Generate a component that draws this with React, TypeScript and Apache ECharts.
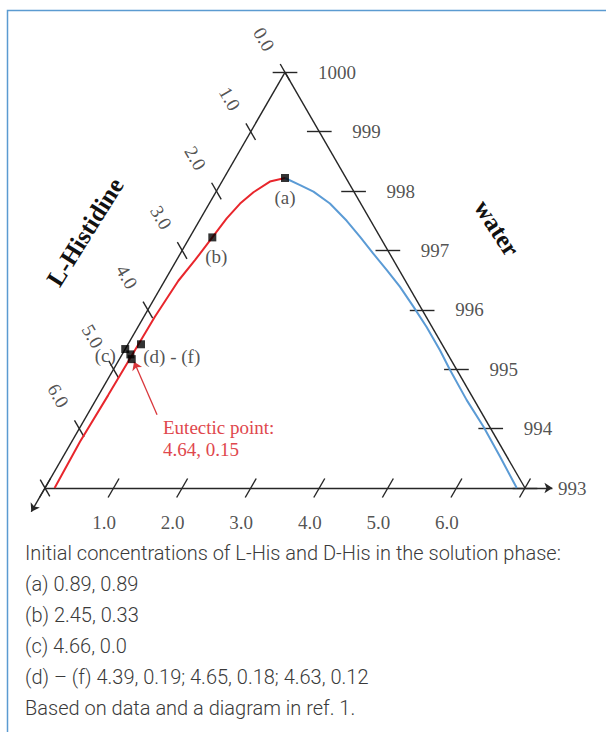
import React, { useEffect, useRef } from "react";
import * as echarts from "echarts";

// ---------------- data ----------------
const SIDE = 7; // concentration range of each axis (g / kg)
const lHisTicks = [0, 1, 2, 3, 4, 5, 6, 7];
const lHisTickLabels = ["0.0", "1.0", "2.0", "3.0", "4.0", "5.0", "6.0"];
const dHisTicks = [0, 1, 2, 3, 4, 5, 6, 7];
const dHisTickLabels = ["1.0", "2.0", "3.0", "4.0", "5.0", "6.0"];
const dHisLabelValues = [1, 2, 3, 4, 5, 6];
const waterTicks = [1000, 999, 998, 997, 996, 995, 994, 993];
const waterTickLabels = ["1000", "999", "998", "997", "996", "995", "994", "993"];

// L-His solubility branch (red): L-His, D-His
const redCurveL = [0.89, 1.14, 1.47, 1.76, 2.08, 2.45, 2.89, 3.31, 3.96, 4.64, 5.3, 6.1, 6.86];
const redCurveD = [0.89, 0.7, 0.55, 0.45, 0.38, 0.33, 0.27, 0.2, 0.16, 0.15, 0.14, 0.12, 0.14];
// D-His solubility branch (blue)
const blueCurveL = [0.89, 0.73, 0.59, 0.45, 0.35, 0.29, 0.24, 0.18, 0.13, 0.1, 0.08, 0.08, 0.1, 0.11, 0.09, 0.1, 0.12];
const blueCurveD = [0.89, 1.17, 1.42, 1.76, 2.15, 2.48, 2.81, 3.15, 3.48, 3.85, 4.21, 4.6, 4.91, 5.41, 5.88, 6.37, 6.88];

const pointNames = ["(a)", "(b)", "(c)", "(d)", "(e)", "(f)"];
const pointL = [0.89, 2.45, 4.66, 4.39, 4.65, 4.63];
const pointD = [0.89, 0.33, 0.0, 0.19, 0.18, 0.12];
const eutecticL = 4.64;
const eutecticD = 0.15;

const captionLines = [
  "Initial concentrations of L-His and D-His in the solution phase:",
  "(a) 0.89, 0.89",
  "(b) 2.45, 0.33",
  "(c) 4.66, 0.0",
  "(d) \u2013 (f) 4.39, 0.19; 4.65, 0.18; 4.63, 0.12",
  "Based on data and a diagram in ref. 1.",
];

// ---------------- layout ----------------
const W_PX = 606;
const H_PX = 732;
const PX = 480 / SIDE; // pixels per unit
const OX = 45; // pixel of left vertex
const OY = 488;
const HH = Math.sqrt(3) / 2;
const SERIF = "'Liberation Serif', 'Times New Roman', serif";
const INK = "#262626";

const tern = (L: number, D: number): [number, number] => {
  const W = SIDE - L - D;
  return [D + 0.5 * W, W * HH];
};
const shift = (p: [number, number], dx: number, dy: number): [number, number] => [
  p[0] + dx / PX,
  p[1] - dy / PX,
];

export default function App() {
  const ref = useRef<HTMLDivElement>(null);
  useEffect(() => {
    if (!ref.current) return;
    const chart = echarts.init(ref.current, undefined, { renderer: "svg" });

    const ticks: any[] = [];
    lHisTicks.forEach((L) => ticks.push({ coords: [tern(L, -0.14), tern(L, 0.14)] }));
    dHisTicks.forEach((D) =>
      ticks.push({ coords: [tern(SIDE - D + 0.16, D), tern(SIDE - D - 0.16, D)] })
    );
    waterTicks.forEach((w) => {
      const Wv = w - 993;
      ticks.push({ coords: [tern(-0.18, SIDE - Wv + 0.18), tern(0.18, SIDE - Wv - 0.18)] });
    });

    const labelItem = (p: [number, number], text: string, extra: any = {}) => ({
      value: p,
      label: {
        show: true,
        formatter: text,
        position: "inside",
        fontFamily: SERIF,
        fontSize: 19,
        color: INK,
        ...extra,
      },
    });

    const tickLabelData: any[] = [];
    lHisTickLabels.forEach((t, i) =>
      tickLabelData.push(labelItem(shift(tern(lHisTicks[i], 0), -21, -33), t, { rotate: -60 }))
    );
    dHisTickLabels.forEach((t, i) => {
      const D = dHisLabelValues[i];
      tickLabelData.push(labelItem(shift(tern(SIDE - D, D), -9.5, 34), t));
    });
    waterTickLabels.forEach((t, i) => {
      const Wv = waterTicks[i] - 993;
      tickLabelData.push(labelItem(shift(tern(0, SIDE - Wv), 33, 0), t, { align: "left" }));
    });

    const pts = pointL.map((L, i) => tern(L, pointD[i]));
    const ptLabels = [
      labelItem(shift(pts[0], 0, 19), "(a)"),
      labelItem(shift(pts[1], 4, 19), "(b)"),
      labelItem(shift(pts[2], -20, 6), "(c)"),
      labelItem(shift(pts[4], 40, -3), "(d) - (f)"),
    ];

    const eut = tern(eutecticL, eutecticD);

    const option: any = {
      animation: false,
      grid: { left: 0, right: 0, top: 0, bottom: 0 },
      xAxis: { type: "value", min: -OX / PX, max: (W_PX - OX) / PX, show: false },
      yAxis: { type: "value", min: -(H_PX - OY) / PX, max: OY / PX, show: false },
      graphic: [
        {
          type: "rect",
          shape: { x: 7.5, y: 10.5, width: 700, height: 800 },
          style: { fill: "none", stroke: "#5b9bd1", lineWidth: 1.5 },
          silent: true,
        },
        {
          type: "text",
          x: 85,
          y: 232,
          rotation: (58 * Math.PI) / 180,
          style: {
            text: "L-Histidine",
            font: `bold 25px ${SERIF}`,
            fill: "#111",
            align: "center",
            verticalAlign: "middle",
          },
        },
        {
          type: "text",
          x: 497,
          y: 228,
          rotation: (-57 * Math.PI) / 180,
          style: {
            text: "water",
            font: `bold 25px ${SERIF}`,
            fill: "#111",
            align: "center",
            verticalAlign: "middle",
          },
        },
        {
          type: "text",
          x: 163,
          y: 416,
          style: {
            text: "Eutectic point:\n4.64, 0.15",
            font: `19px ${SERIF}`,
            lineHeight: 22,
            fill: "#e0474d",
            align: "left",
            verticalAlign: "top",
          },
        },
        ...captionLines.map((t, i) => ({
          type: "text",
          x: 25,
          y: 553 + i * 31,
          style: {
            text: t,
            font: `300 20px Roboto, 'Noto Sans', sans-serif`,
            fill: "#3a3a3a",
            align: "left",
            verticalAlign: "middle",
          },
        })),
      ],
      series: [
        {
          type: "lines",
          coordinateSystem: "cartesian2d",
          silent: true,
          lineStyle: { color: INK, width: 1.4, opacity: 1 },
          symbol: ["none", "none"],
          data: [{ coords: [tern(0, 0), tern(0, SIDE)] }, ...ticks],
        },
        {
          type: "lines",
          coordinateSystem: "cartesian2d",
          silent: true,
          lineStyle: { color: INK, width: 1.4, opacity: 1 },
          symbol: ["none", "arrow"],
          symbolSize: 8,
          data: [
            { coords: [tern(0, 0), tern(SIDE + 0.4, 0)] },
            { coords: [tern(SIDE, 0), tern(-0.4, SIDE + 0.4)] },
          ],
        },
        {
          type: "line",
          data: redCurveL.map((L, i) => tern(L, redCurveD[i])),
          showSymbol: false,
          lineStyle: { color: "#e8262c", width: 2 },
          z: 3,
        },
        {
          type: "line",
          data: blueCurveL.map((L, i) => tern(L, blueCurveD[i])),
          showSymbol: false,
          lineStyle: { color: "#5b9bd5", width: 2 },
          z: 3,
        },
        {
          type: "lines",
          coordinateSystem: "cartesian2d",
          silent: true,
          lineStyle: { color: "#d9373c", width: 1.3, opacity: 1 },
          symbol: ["none", "arrow"],
          symbolSize: 8,
          data: [{ coords: [shift(eut, 26, 58), shift(eut, 3, 5)] }],
          z: 4,
        },
        {
          type: "scatter",
          symbol: "rect",
          symbolSize: 8,
          itemStyle: { color: "#000" },
          data: pts,
          z: 5,
        },
        {
          type: "scatter",
          symbolSize: 0,
          data: [...tickLabelData, ...ptLabels],
          z: 6,
        },
      ],
    };
    chart.setOption(option);
    return () => chart.dispose();
  }, []);
  return (
    <div
      ref={ref}
      style={{ position: "absolute", left: 0, top: 0, width: W_PX, height: H_PX, background: "#fff" }}
    />
  );
}
